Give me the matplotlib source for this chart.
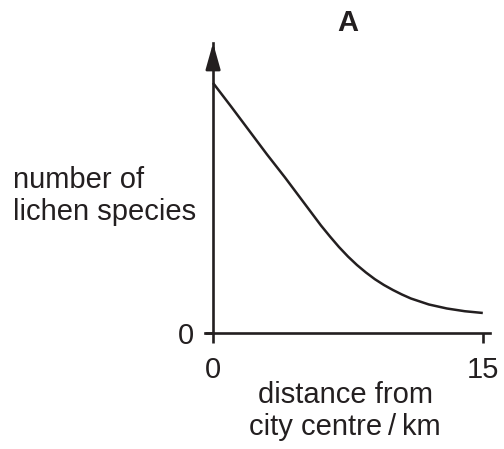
import matplotlib.pyplot as plt

plt.rcParams['font.family'] = ['Liberation Sans', 'DejaVu Sans']

ink = '#231f20'

# distance from city centre (km) and number of lichen species (arbitrary units)
distance = [0, 1, 2, 3, 4, 5, 6, 6.5, 7, 7.5, 8, 8.5, 9, 9.5, 10, 10.5,
            11, 12, 13, 14, 15]
species = [10.0, 9.06, 8.1, 7.14, 6.22, 5.26, 4.3, 3.86, 3.44, 3.06, 2.72,
           2.42, 2.15, 1.92, 1.72, 1.54, 1.38, 1.14, 0.98, 0.87, 0.8]
xticks = [0, 15]
xticklabels = ['0', '15']

fig = plt.figure(figsize=(5.04, 4.49), dpi=100)
ax = fig.add_axes([0.4067, 0.2584, 0.5655, 0.6459])

ax.plot(distance, species, color=ink, lw=1.8, solid_capstyle='butt')

ax.set_xlim(-0.45, 15.4)
ax.set_ylim(0, 11.6)

for s in ['top', 'right']:
    ax.spines[s].set_visible(False)
ax.spines['left'].set_position(('data', 0))
for s in ['left', 'bottom']:
    ax.spines[s].set_color(ink)
    ax.spines[s].set_linewidth(1.9)

# arrow head on top of the y axis
ax.annotate('', xy=(0, 1), xytext=(0, 0.93),
            xycoords=('data', 'axes fraction'),
            arrowprops=dict(arrowstyle='-|>,head_length=1.6,head_width=0.45',
                            color=ink, lw=1.9, shrinkA=0, shrinkB=0,
                            mutation_scale=10))

ax.set_xticks(xticks)
ax.set_xticklabels(xticklabels)
ax.set_yticks([0])
ax.set_yticklabels(['0'])
ax.tick_params(axis='x', direction='out', length=7.5, width=1.9, color=ink,
               labelsize=21, labelcolor=ink, pad=9)
ax.tick_params(axis='y', direction='out', length=6, width=1.9, color=ink,
               labelsize=21, labelcolor=ink, pad=8)

fig.text(13 / 504, 1 - 166 / 449, 'number of\nlichen species', ha='left',
         va='top', fontsize=21, color=ink, linespacing=1.16)
fig.text(345 / 504, 1 - 381 / 449, 'distance from\ncity centre\u2009/\u2009km',
         ha='center', va='top', fontsize=21, color=ink, linespacing=1.16)
fig.text(348 / 504, 1 - 23 / 449, 'A', ha='center', va='center',
         fontsize=21, fontweight='bold', color=ink)

fig.savefig('out.png', dpi=100)
